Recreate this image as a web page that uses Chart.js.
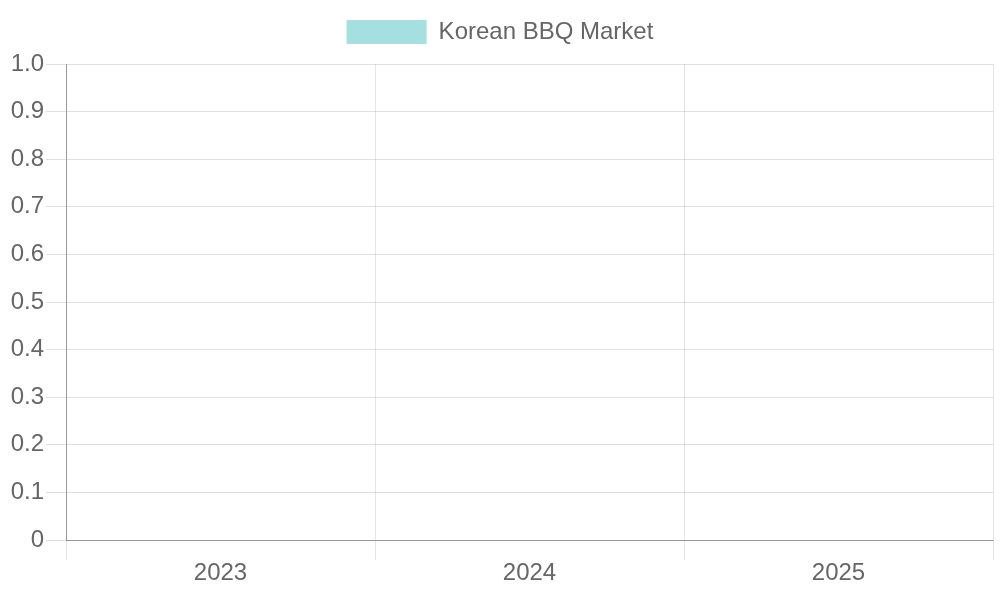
<!DOCTYPE html>
<html>
<head>
<meta charset="utf-8">
<script src="https://cdn.jsdelivr.net/npm/chart.js@4"></script>
<style>
  html, body { margin: 0; padding: 0; background: #fff; }
  #wrap { width: 1000px; height: 600px; position: relative; }
</style>
</head>
<body>
<div id="wrap"><canvas id="c"></canvas></div>
<script>
const categories = ["2023", "2024", "2025"];
const seriesName = "Korean BBQ Market";
const seriesValues = [null, null, null];

Chart.defaults.font.family = "'Liberation Sans', Arial, sans-serif";
Chart.defaults.font.size = 24;
Chart.defaults.color = "#666";

const legendSpacer = {
  id: "legendSpacer",
  beforeInit(chart) {
    const origFit = chart.legend.fit;
    chart.legend.fit = function () {
      origFit.call(this);
      this.height += 10;
    };
  }
};

new Chart(document.getElementById("c"), {
  type: "bar",
  data: {
    labels: categories,
    datasets: [{
      label: seriesName,
      data: seriesValues,
      backgroundColor: "rgba(75,192,192,0.5)",
      borderWidth: 0
    }]
  },
  plugins: [legendSpacer],
  options: {
    responsive: true,
    maintainAspectRatio: false,
    animation: false,
    plugins: {
      legend: { labels: { boxWidth: 80, boxHeight: 24, padding: 20 } }
    },
    scales: {
      x: {
        grid: { tickLength: 20, color: "rgba(0,0,0,0.1)" },
        border: { color: "rgba(0,0,0,0.33)" },
        ticks: { padding: 1, font: { lineHeight: 1 } },
        afterFit(scale) { scale.height = 60; scale.paddingRight = 7; }
      },
      y: {
        beginAtZero: true,
        min: 0,
        max: 1,
        grid: { tickLength: 20, color: "rgba(0,0,0,0.12)" },
        border: { color: "rgba(0,0,0,0.33)" },
        ticks: { padding: 2, stepSize: 0.1 },
        afterFit(scale) { scale.width = 66; }
      }
    }
  }
});
</script>
</body>
</html>
